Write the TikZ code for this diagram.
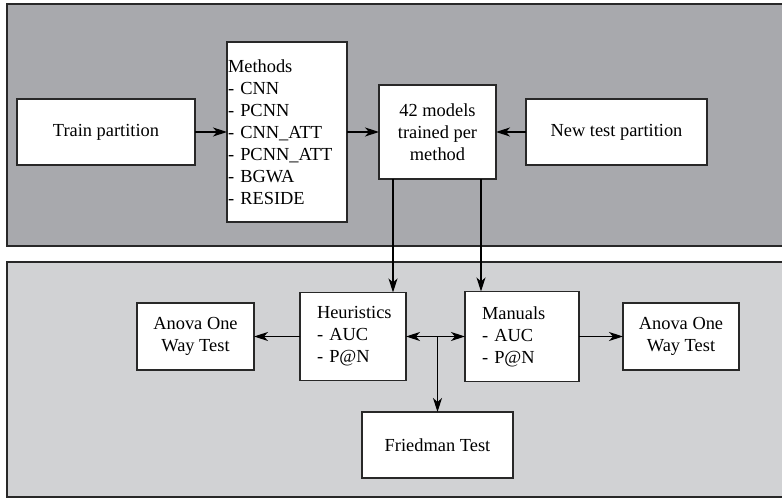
\documentclass[tikz,border=0pt]{standalone}
\usepackage{fontspec}
\setmainfont{Liberation Serif}
\usetikzlibrary{arrows.meta,positioning,calc}
\definecolor{topgray}{RGB}{168,169,173}
\definecolor{botgray}{RGB}{209,210,212}
\definecolor{edgegray}{RGB}{40,40,40}

\begin{document}
\begin{tikzpicture}[x=1pt, y=1pt, line width=1.2pt, >={Stealth[length=14pt,width=9pt,inset=4pt]},
box/.style={draw=edgegray,fill=white,align=center,outer sep=0pt},
list box/.style={box,align=left,inner ysep=0pt},
panel/.style={draw=edgegray,line width=1.5pt}]%rounded corners,
\useasboundingbox (0,0) rectangle (782,502);
\draw[panel,fill=topgray] (7,256) rectangle (792,498);
\draw[panel,fill=botgray] (7,5) rectangle (792,240);
\begin{scope}[every node/.style={font=\rmfamily\fontsize{18.4}{22}\selectfont}]
\node[box,minimum width=178,minimum height=66] (train) at (106,370) {Train partition};
\node[list box,text width=118,inner xsep=1,minimum height=180] (methods) at (287,370) {Methods\\- CNN\\- PCNN\\- CNN\_ATT\\- PCNN\_ATT\\- BGWA\\- RESIDE};
\node[box,minimum width=117,minimum height=94] (models) at (437.5,370) {42 models\\trained per\\method};
\node[box,minimum width=181,minimum height=66] (newtest) at (616.5,370) {New test partition};
\node[list box,text width=72,inner xsep=17,minimum height=88] (heur) at (353,165.5) {Heuristics\\- AUC\\- P@N};
\node[list box,text width=80,inner xsep=17,minimum height=90] (manuals) at (522,165.5) {Manuals\\- AUC\\- P@N};
\node[box,minimum width=117,minimum height=67] (anovaL) at (195.5,165.5) {Anova One\\Way Test};
\node[box,minimum width=116,minimum height=67] (anovaR) at (681,165.5) {Anova One\\Way Test};
\node[box,minimum width=151,minimum height=66] (friedman) at (437.5,57) {Friedman Test};
\end{scope}
\draw[->] (train) -- (methods);
\draw[->] (methods) -- (models);
\draw[->] (newtest) -- (models);
\draw[->] ([xshift=-44.5pt]models.south) -- ([xshift=-44.5pt]models.south |- heur.north);
\draw[->] ([xshift=43.5pt]models.south) -- ([xshift=43.5pt]models.south |- manuals.north);
\draw[->] (heur) -- (anovaL);
\draw[->] (manuals) -- (anovaR);
\draw[<->] (heur) -- (manuals);
\draw[->] (heur.east -| friedman.north) -- (friedman.north);
\end{tikzpicture}
\end{document}
